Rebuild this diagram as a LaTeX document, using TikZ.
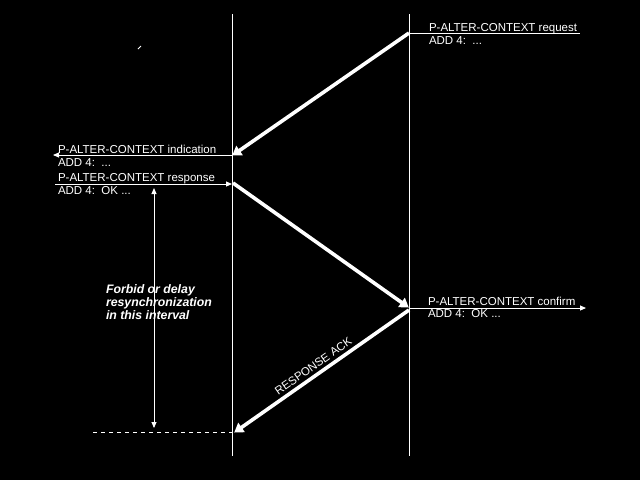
\documentclass[tikz,border=0pt]{standalone}
\usepackage{fontspec}
\setmainfont{Liberation Sans}
\usetikzlibrary{arrows.meta}
\begin{document}
\begin{tikzpicture}[x=1pt,y=-1pt,
  every node/.style={inner sep=0pt,outer sep=0pt,text=white,font=\fontsize{11.5}{13}\selectfont},
  lbl/.style={anchor=base west},
  thin line/.style={draw=white,line width=0.9pt},
  thin arrow/.style={thin line,-{Triangle[length=6pt,width=5pt]}},
  thick arrow/.style={draw=white,line width=3.6pt,-{Triangle[length=9pt,width=11pt]},shorten >=-1pt},
  note/.style={anchor=base west,font=\fontsize{12.3}{13}\selectfont\bfseries\itshape}]
\fill[black] (0,0) rectangle (640,480);
\useasboundingbox (0,0) rectangle (640,480);
% time lines
\coordinate (Ltop) at (232,14);
\coordinate (Lbot) at (232,456);
\coordinate (Rtop) at (409,14);
\coordinate (Rbot) at (409,456);
\draw[thin line] (Ltop) -- (Lbot);
\draw[thin line] (Rtop) -- (Rbot);
% request
\coordinate (reqA) at (409,33);
\coordinate (reqB) at (580,33);
\draw[thin line] (reqA) -- (reqB);
\node[lbl] (req1) at (429,31) {P-ALTER-CONTEXT request};
\node[lbl] (req2) at (429,44) {ADD 4:\ \ ...};
% indication
\coordinate (indA) at (232,155);
\coordinate (indB) at (53,155);
\draw[thin arrow] (indA) -- (indB);
\node[lbl] (ind1) at (58,153) {P-ALTER-CONTEXT indication};
\node[lbl] (ind2) at (58,166.5) {ADD 4:\ \ ...};
% response
\coordinate (resA) at (55,184);
\coordinate (resB) at (232,184);
\draw[thin arrow] (resA) -- (resB);
\node[lbl] (res1) at (58,181) {P-ALTER-CONTEXT response};
\node[lbl] (res2) at (58,194.5) {ADD 4:\ \ OK ...};
% confirm
\coordinate (conA) at (409,308);
\coordinate (conB) at (586,308);
\draw[thin arrow] (conA) -- (conB);
\node[lbl] (con1) at (428,305) {P-ALTER-CONTEXT confirm};
\node[lbl] (con2) at (428,317) {ADD 4:\ \ OK ...};
% thick PDU arrows
\coordinate (p1a) at (409,33);
\coordinate (p1b) at (233,155);
\draw[thick arrow] (p1a) -- (p1b);
\coordinate (p2a) at (233,183);
\coordinate (p2b) at (408,307);
\draw[thick arrow] (p2a) -- (p2b);
\coordinate (p3a) at (409,310);
\coordinate (p3b) at (235,432);
\draw[thick arrow] (p3a) -- (p3b);
\path (p3a) -- node[pos=0.52,above=5pt,sloped] (acklbl) {RESPONSE ACK} (p3b);
% interval
\coordinate (ivTop) at (154,188);
\coordinate (ivBot) at (154,428);
\draw[thin line,{Triangle[length=6pt,width=5pt]}-{Triangle[length=6pt,width=5pt]}] (ivTop) -- (ivBot);
\coordinate (dashA) at (93,432);
\coordinate (dashB) at (232,432);
\draw[draw=white,line width=0.9pt,dash pattern=on 4pt off 4pt] (dashA) -- (dashB);
\node[note] (n1) at (106,293) {Forbid or delay};
\node[note] (n2) at (106,306) {resynchronization};
\node[note] (n3) at (106,319) {in this interval};
% stray mark
\coordinate (sA) at (138,49);
\coordinate (sB) at (141,46);
\draw[draw=white,line width=0.9pt] (sA) -- (sB);
\end{tikzpicture}
\end{document}
